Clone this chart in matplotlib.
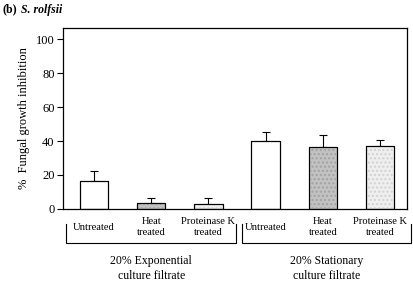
import matplotlib.pyplot as plt
import matplotlib.transforms as mtransforms

plt.rcParams['font.family'] = ['Liberation Serif', 'DejaVu Serif']

# data
labels = ['Untreated', 'Heat\ntreated', 'Proteinase K\ntreated',
          'Untreated', 'Heat\ntreated', 'Proteinase K\ntreated']
values = [16.5, 3.5, 3.2, 40.0, 36.5, 36.8]
err_up = [6.0, 3.0, 3.0, 5.5, 7.0, 3.8]
groups = ['20% Exponential\nculture filtrate', '20% Stationary\nculture filtrate']

fills = ['white', '#c2c2c2', '#efefef', 'white', '#c2c2c2', '#efefef']
hatches = ['', '....', '....', '', '....', '....']
hatch_cols = ['white', '#a2a2a2', '#d2d2d2', 'white', '#a2a2a2', '#d2d2d2']

fig = plt.figure(figsize=(4.13, 2.87), dpi=100)
ax = fig.add_axes([0.1525, 0.272, 0.833, 0.630])

x = list(range(len(values)))
ax.bar(x, values, 0.5, color=fills, edgecolor='black', linewidth=0.8, zorder=2)
plt.rcParams['hatch.linewidth'] = 1.0
for i in x:
    if hatches[i]:
        ax.bar(i, values[i] - 0.6, 0.46, bottom=0.3, color='none', edgecolor=hatch_cols[i],
               hatch=hatches[i], linewidth=0, zorder=2.5)
ax.bar(x, values, 0.5, color='none', edgecolor='black', linewidth=0.8, zorder=3)
ax.errorbar(x, values, yerr=[[0] * len(values), err_up], fmt='none', ecolor='black',
            elinewidth=0.8, capsize=3, capthick=0.8, zorder=1)

ax.set_xlim(-0.54, 5.47)
ax.set_ylim(0, 106.5)
ax.set_yticks([0, 20, 40, 60, 80, 100])
ax.set_xticks([])
ax.tick_params(axis='y', direction='out', length=4, width=0.8, labelsize=9, pad=2)
for s in ax.spines.values():
    s.set_linewidth(0.9)
ax.set_ylabel('%  Fungal growth inhibition', fontsize=9, labelpad=4)

trans = mtransforms.blended_transform_factory(ax.transData, ax.transAxes)
for i, lab in enumerate(labels):
    ax.text(i, -0.1, lab, transform=trans, ha='center', va='center', fontsize=7.6,
            linespacing=1.35)

brackets = [(-0.48, 2.48), (2.59, 5.54)]
for (a, b), g in zip(brackets, groups):
    ax.plot([a, a, b, b], [-0.085, -0.19, -0.19, -0.085], color='black', lw=0.8,
            transform=trans, clip_on=False)
    ax.text((a + b) / 2, -0.33, g, transform=trans, ha='center', va='center',
            fontsize=8.5, linespacing=1.3)

fig.text(0.006, 0.966, '(b)', fontsize=8.5, fontweight='bold', va='center')
fig.text(0.052, 0.966, 'S. rolfsii', fontsize=8.5, fontweight='bold', style='italic', va='center')

fig.savefig('out.png', dpi=100)
